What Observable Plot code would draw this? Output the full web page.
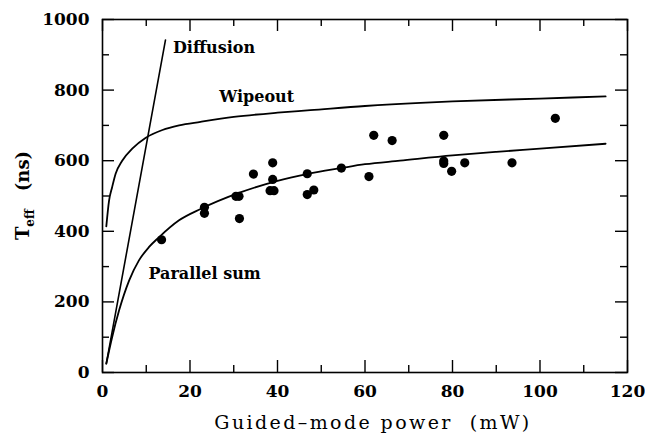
<!DOCTYPE html>
<html>
<head>
<meta charset="utf-8">
<script src="https://cdn.jsdelivr.net/npm/d3@7"></script>
<script src="https://cdn.jsdelivr.net/npm/@observablehq/plot@0.6"></script>
<style>
  html, body { margin: 0; padding: 0; background: #fff; }
  svg { display: block; }
  svg text { font-family: "DejaVu Serif", serif; }
  .xtitle text { letter-spacing: 2.4px; }
</style>
</head>
<body>
<div id="chart"></div>
<script>
// ---- Data ----
const powerMeasured = [13.5, 23.3, 23.3, 30.5, 31.2, 31.3, 34.5, 38.3, 39.2, 38.9, 38.9, 46.8, 46.8, 48.3, 54.6, 60.9, 62.0, 66.2, 78.0, 78.0, 78.0, 79.8, 82.8, 93.6, 103.5];
const teffMeasured  = [376, 468, 451, 499, 499, 436, 562, 515, 515, 594, 547, 563, 504, 517, 579, 555, 672, 657, 672, 599, 592, 570, 594, 594, 720];

const wipeoutP = [0.87, 1.5, 2.2, 3.0, 4.5, 6.8, 9.9, 13.7, 17.5, 22.4, 30, 40, 47.5, 60, 72.7, 80, 100, 115];
const wipeoutT = [414, 487, 525, 563, 600, 634, 665, 687, 700, 710, 724, 736, 743, 755, 764, 768, 776, 782];

const parallelP = [0.87, 2.2, 3.8, 6.1, 8.3, 10.6, 12.9, 17.5, 22.4, 31.5, 40, 47, 54.5, 60, 68, 80, 90, 100, 115];
const parallelT = [25, 100, 176, 261, 317, 355, 383, 431, 463, 510, 543, 563, 579, 590, 600, 615, 625, 634, 648];

const diffusionP = [0.87, 14.4];
const diffusionT = [25, 942];

const curveLabels = ["Diffusion", "Wipeout", "Parallel sum"];
const curveLabelP = [16.1, 26.7, 10.5];
const curveLabelT = [919, 782, 280];

const xMajor = [0, 20, 40, 60, 80, 100, 120];
const xMinor = [10, 30, 50, 70, 90, 110];
const yMajor = [0, 200, 400, 600, 800, 1000];
const yMinor = [100, 300, 500, 700, 900];

const xTitle = "Guided\u2013mode power  (mW)";
const yTitleMain = "T";
const yTitleSub = "eff";
const yTitleUnit = "(ns)";

// ---- Build tables ----
const measured = powerMeasured.map((p, i) => ({p, t: teffMeasured[i]}));
const wipeout = wipeoutP.map((p, i) => ({p, t: wipeoutT[i]}));
const parallel = parallelP.map((p, i) => ({p, t: parallelT[i]}));
const diffusion = diffusionP.map((p, i) => ({p, t: diffusionT[i]}));
const labels = curveLabels.map((s, i) => ({s, p: curveLabelP[i], t: curveLabelT[i]}));

const W = 645, H = 443;
const mL = 102, mR = 18, mT = 19, mB = 71;
const innerW = W - mL - mR, innerH = H - mT - mB;
const major = 12, minor = 7;
const serif = "DejaVu Serif";

const plot = Plot.plot({
  width: W,
  height: H,
  marginLeft: mL,
  marginRight: mR,
  marginTop: mT,
  marginBottom: mB,
  x: {domain: [0, 120]},
  y: {domain: [0, 1000]},
  style: {fontFamily: serif, fontWeight: "bold", fontSize: "17px", color: "#000", background: "#fff"},
  marks: [
    // inward ticks on all four sides
    Plot.ruleX(xMajor, {x: d => d, insetTop: innerH - major, stroke: "#000", strokeWidth: 1.4}),
    Plot.ruleX(xMajor, {x: d => d, insetBottom: innerH - major, stroke: "#000", strokeWidth: 1.4}),
    Plot.ruleX(xMinor, {x: d => d, insetTop: innerH - minor, stroke: "#000", strokeWidth: 1.4}),
    Plot.ruleX(xMinor, {x: d => d, insetBottom: innerH - minor, stroke: "#000", strokeWidth: 1.4}),
    Plot.ruleY(yMajor, {y: d => d, insetRight: innerW - major, stroke: "#000", strokeWidth: 1.4}),
    Plot.ruleY(yMajor, {y: d => d, insetLeft: innerW - major, stroke: "#000", strokeWidth: 1.4}),
    Plot.ruleY(yMinor, {y: d => d, insetRight: innerW - minor, stroke: "#000", strokeWidth: 1.4}),
    Plot.ruleY(yMinor, {y: d => d, insetLeft: innerW - minor, stroke: "#000", strokeWidth: 1.4}),
    Plot.frame({stroke: "#000", strokeWidth: 1.6}),
    Plot.axisX({ticks: xMajor, tickSize: 0, tickPadding: 12, label: null, tickFormat: d => String(d), fontSize: 17, fontFamily: serif, fontWeight: "bold"}),
    Plot.axisY({ticks: yMajor, tickSize: 0, tickPadding: 13, label: null, tickFormat: d => String(d), fontSize: 17, fontFamily: serif, fontWeight: "bold"}),
    // curves
    Plot.line(diffusion, {x: "p", y: "t", stroke: "#000", strokeWidth: 1.6}),
    Plot.line(wipeout, {x: "p", y: "t", stroke: "#000", strokeWidth: 1.8, curve: "monotone-x"}),
    Plot.line(parallel, {x: "p", y: "t", stroke: "#000", strokeWidth: 1.8, curve: "monotone-x"}),
    // measurements
    Plot.dot(measured, {x: "p", y: "t", r: 4.6, fill: "#000", stroke: null}),
    // curve labels
    Plot.text(labels, {x: "p", y: "t", text: "s", textAnchor: "start", fontSize: 16, fontWeight: "bold", fontFamily: serif, fill: "#000"}),
    // x title
    Plot.text([xTitle], {frameAnchor: "bottom", dx: 8, dy: 56, fontSize: 19, fontWeight: "normal", fontFamily: serif, fill: "#000", className: "xtitle"})
  ]
});

// y title with subscript
const ys = plot.scale("y");
const yc = (ys.apply(0) + ys.apply(1000)) / 2;
const svg = d3.select(plot);
const t = svg.append("text")
  .attr("transform", `translate(29,${yc}) rotate(-90)`)
  .attr("text-anchor", "middle")
  .attr("font-family", serif)
  .attr("font-weight", "bold")
  .attr("font-size", 18)
  .attr("fill", "#000");
t.append("tspan").text(yTitleMain);
t.append("tspan").attr("font-size", 12).attr("dy", 5).text(yTitleSub);
t.append("tspan").attr("dy", -5).attr("dx", 18).text(yTitleUnit);

document.getElementById("chart").appendChild(plot);
</script>
</body>
</html>
